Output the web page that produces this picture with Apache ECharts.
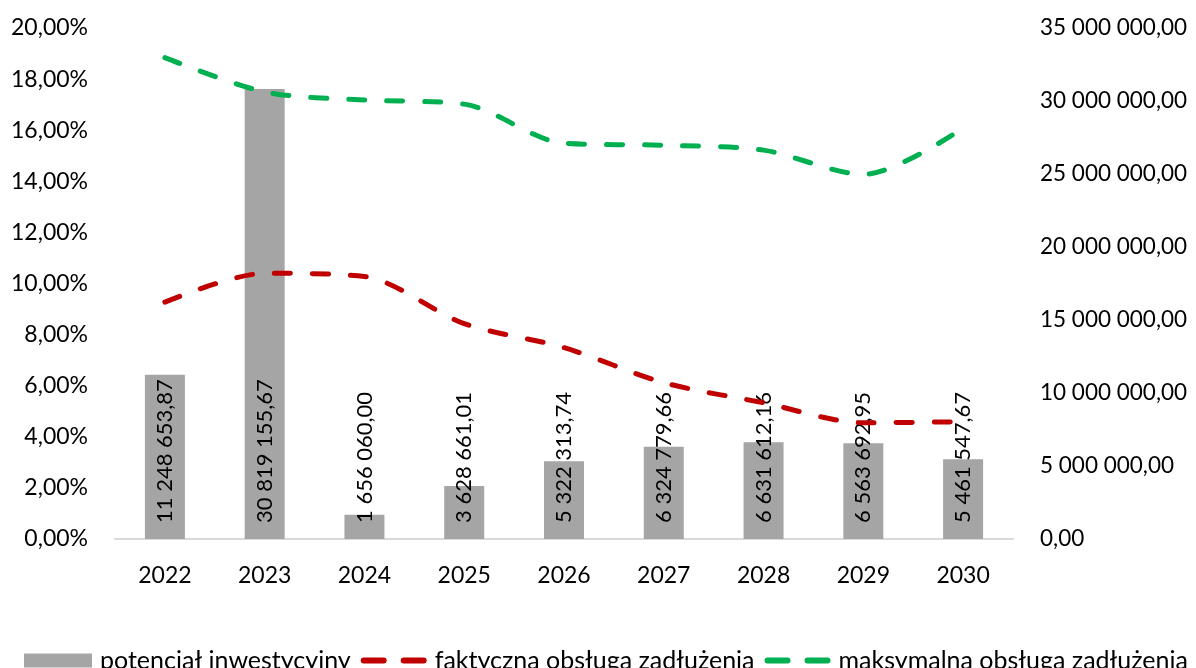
<!DOCTYPE html>
<html>
<head>
<meta charset="utf-8">
<script src="https://cdn.jsdelivr.net/npm/echarts@6/dist/echarts.min.js"></script>
<style>
  html, body { margin: 0; padding: 0; background: #fff; }
  #chart { width: 1196px; height: 668px; }
</style>
</head>
<body>
<div id="chart"></div>
<script>
// data
const years = ['2022', '2023', '2024', '2025', '2026', '2027', '2028', '2029', '2030'];
const potencjal = [11248653.87, 30819155.67, 1656060.00, 3628661.01, 5322313.74, 6324779.66, 6631612.16, 6563692.95, 5461547.67];
const faktyczna = [9.27, 10.40, 10.27, 8.43, 7.49, 6.12, 5.33, 4.55, 4.59]; // %
const maksymalna = [18.84, 17.50, 17.18, 17.02, 15.49, 15.41, 15.22, 14.27, 16.08]; // %

const fontFamily = 'Lato';

// 1234567.8 -> "1 234 567,80"
const fmtMoney = (v) => {
  const parts = v.toFixed(2).split('.');
  return parts[0].replace(/\B(?=(\d{3})+(?!\d))/g, ' ') + ',' + parts[1];
};

const chart = echarts.init(document.getElementById('chart'));

const dash = [16, 22];
// two short dashes, like the Excel legend key for a dashed line
const dashIcon = 'path://M0,0h0.01v0.01h-0.01z M68,14h-0.01v-0.01h0.01z M5,4h20a3,3 0 0 1 0,6h-20a3,3 0 0 1 0,-6z M45,4h20a3,3 0 0 1 0,6h-20a3,3 0 0 1 0,-6z';

chart.setOption({
  backgroundColor: '#fff',
  animation: false,
  textStyle: { fontFamily },
  grid: { left: 115, right: 183, top: 28, bottom: 129 },
  legend: {
    left: 19,
    top: 643,
    itemWidth: 68,
    itemHeight: 14,
    itemGap: 8,
    textStyle: { fontFamily, fontSize: 25, color: '#000', padding: [0, 0, 0, 3] },
    data: [
      { name: 'potencjał inwestycyjny', icon: 'rect' },
      { name: 'faktyczna obsługa zadłużenia', icon: dashIcon },
      { name: 'maksymalna obsługa zadłużenia', icon: dashIcon },
    ],
  },
  xAxis: {
    type: 'category',
    data: years,
    axisLine: { lineStyle: { color: '#D9D9D9', width: 2 } },
    axisTick: { show: false },
    axisLabel: { color: '#000', fontSize: 23, margin: 25, fontFamily },
  },
  yAxis: [
    {
      type: 'value',
      min: 0,
      max: 20,
      interval: 2,
      axisLine: { show: false },
      axisTick: { show: false },
      splitLine: { show: false },
      axisLabel: {
        color: '#000',
        fontSize: 23,
        margin: 27,
        fontFamily,
        formatter: (v) => v.toFixed(2).replace('.', ',') + '%',
      },
    },
    {
      type: 'value',
      min: 0,
      max: 35000000,
      interval: 5000000,
      axisLine: { show: false },
      axisTick: { show: false },
      splitLine: { show: false },
      axisLabel: {
        color: '#000',
        fontSize: 22.5,
        margin: 27,
        fontFamily,
        formatter: (v) => fmtMoney(v),
      },
    },
  ],
  series: [
    {
      name: 'potencjał inwestycyjny',
      type: 'bar',
      yAxisIndex: 1,
      data: potencjal,
      barWidth: 40,
      itemStyle: { color: '#A5A5A5' },
      label: {
        show: true,
        rotate: 90,
        position: 'insideBottom',
        align: 'left',
        verticalAlign: 'middle',
        distance: 16,
        color: '#000',
        fontSize: 22,
        fontFamily,
        formatter: (p) => fmtMoney(p.value),
      },
    },
    {
      name: 'faktyczna obsługa zadłużenia',
      type: 'line',
      yAxisIndex: 0,
      data: faktyczna,
      smooth: 0.3,
      symbol: 'none',
      lineStyle: { color: '#C00000', width: 5, type: dash, cap: 'round' },
      itemStyle: { color: '#C00000' },
    },
    {
      name: 'maksymalna obsługa zadłużenia',
      type: 'line',
      yAxisIndex: 0,
      data: maksymalna,
      smooth: 0.3,
      symbol: 'none',
      lineStyle: { color: '#00B050', width: 5, type: dash, cap: 'round' },
      itemStyle: { color: '#00B050' },
    },
  ],
});
</script>
</body>
</html>
